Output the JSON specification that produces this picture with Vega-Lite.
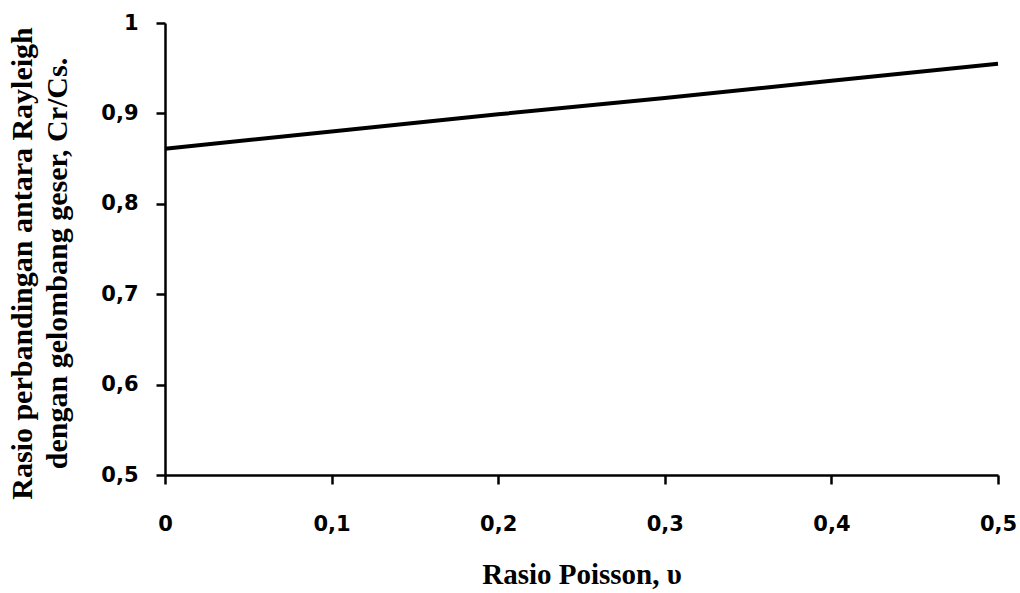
{
  "$schema": "https://vega.github.io/schema/vega-lite/v6.json",
  "width": 833,
  "height": 452,
  "autosize": "none",
  "padding": {"left": 165, "top": 23, "right": 22, "bottom": 118},
  "background": "white",
  "config": {"view": {"stroke": null}},
  "data": {"values": [
    {"v": 0.0, "r": 0.861},
    {"v": 0.1, "r": 0.880},
    {"v": 0.2, "r": 0.899},
    {"v": 0.3, "r": 0.917},
    {"v": 0.4, "r": 0.936},
    {"v": 0.5, "r": 0.955}
  ]},
  "mark": {"type": "line", "color": "black", "strokeWidth": 4},
  "encoding": {
    "x": {
      "field": "v", "type": "quantitative",
      "scale": {"domain": [0, 0.5], "nice": false, "zero": false},
      "axis": {
        "values": [0, 0.1, 0.2, 0.3, 0.4, 0.5],
        "format": ".1~f",
        "labelExpr": "replace(datum.label, '.', ',')",
        "grid": false,
        "domainColor": "black", "domainWidth": 2.5,
        "tickColor": "black", "tickWidth": 2.5, "tickSize": 9,
        "labelFont": "DejaVu Sans", "labelFontSize": 21, "labelFontWeight": "bold", "labelColor": "black",
        "labelPadding": 29, "labelFlush": false,
        "title": "Rasio Poisson, υ",
        "titleFont": "Liberation Serif", "titleFontSize": 29, "titleFontWeight": "bold",
        "titleColor": "black", "titlePadding": 26
      }
    },
    "y": {
      "field": "r", "type": "quantitative",
      "scale": {"domain": [0.5, 1], "nice": false, "zero": false},
      "axis": {
        "values": [0.5, 0.6, 0.7, 0.8, 0.9, 1],
        "format": ".1~f",
        "labelExpr": "replace(datum.label, '.', ',')",
        "grid": false,
        "domainColor": "black", "domainWidth": 2.5,
        "tickColor": "black", "tickWidth": 2.5, "tickSize": 9,
        "labelFont": "DejaVu Sans", "labelFontSize": 21, "labelFontWeight": "bold", "labelColor": "black",
        "labelPadding": 18, "labelFlush": false,
        "title": ["Rasio perbandingan antara Rayleigh", "dengan gelombang geser, Cr/Cs."],
        "titleFont": "Liberation Serif", "titleFontSize": 30, "titleFontWeight": "bold",
        "titleColor": "black", "titlePadding": 28, "titleLineHeight": 35, "titleY": 240
      }
    }
  }
}
